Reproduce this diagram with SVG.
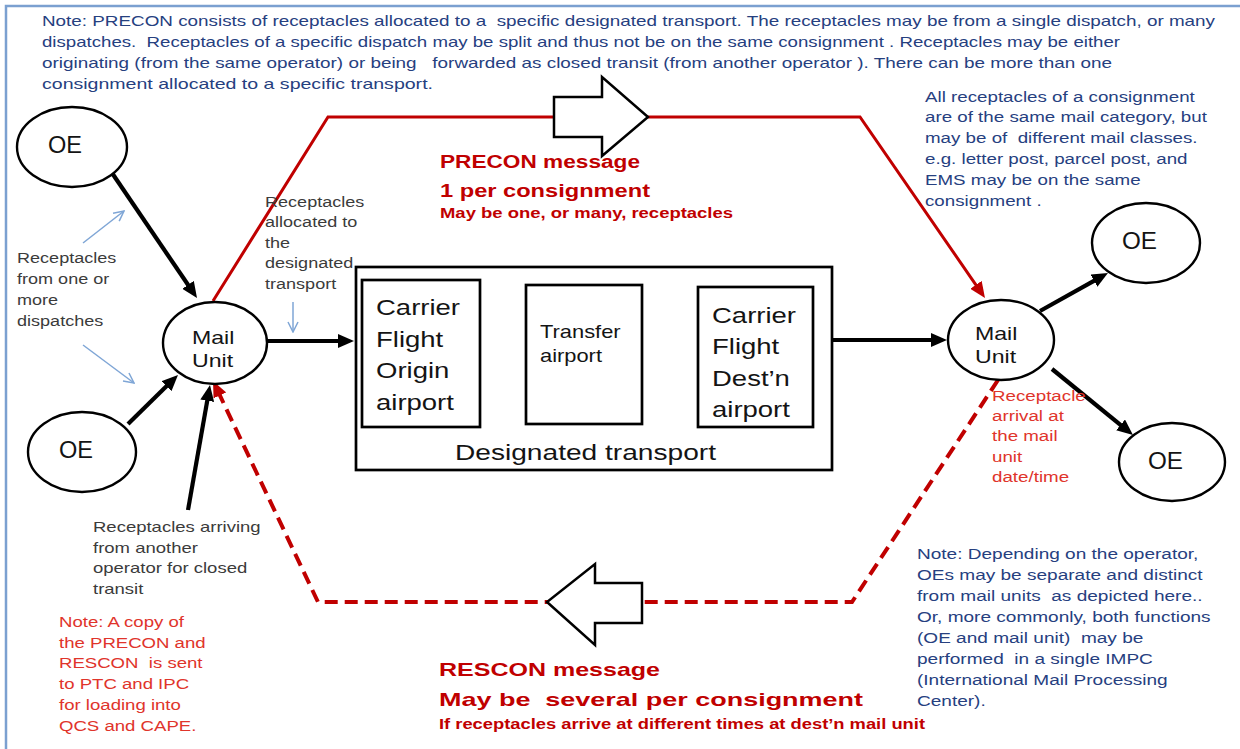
<svg xmlns="http://www.w3.org/2000/svg" width="1240" height="749" viewBox="0 0 1240 749">
<style>
text{font-family:"Liberation Sans",Arial,sans-serif}
.blue{fill:#26407f;font-size:15px}
.gray{fill:#3b3b3b;font-size:14.8px}
.red2{fill:#e0342b;font-size:15px}
.redb{fill:#c00000;font-weight:bold}
.lbl{fill:#141414}
.node{fill:#fff;stroke:#000;stroke-width:2.4}
.box{fill:#fff;stroke:#000;stroke-width:2.7}
.blk{fill:none;stroke:#000;stroke-width:4.2}
.thin{fill:none;stroke:#7fa6d6;stroke-width:1.5}
.hollow{fill:#fff;stroke:#000;stroke-width:2.5;stroke-linejoin:miter}
</style>
<defs>
<marker id="ah" viewBox="0 0 16 14" markerWidth="16" markerHeight="14" refX="3" refY="7" orient="auto" markerUnits="userSpaceOnUse"><path d="M0,0 L16,7 L0,14 z" fill="#000"/></marker>
<marker id="ahr" viewBox="0 0 16 14" markerWidth="16" markerHeight="14" refX="3" refY="7" orient="auto" markerUnits="userSpaceOnUse"><path d="M0,0 L16,7 L0,14 z" fill="#c00000"/></marker>
<marker id="ahb" viewBox="0 0 12 12" markerWidth="12" markerHeight="12" refX="11" refY="6" orient="auto" markerUnits="userSpaceOnUse"><path d="M1,1 L11,6 L1,11" fill="none" stroke="#7fa6d6" stroke-width="1.5"/></marker>
</defs>
<rect x="0" y="0" width="1240" height="749" fill="#fff"/>
<path d="M6,749 V6 H1240" fill="none" stroke="#7ba0d0" stroke-width="2.5"/>

<g id="connectors">
<path class="blk" d="M110,170 L189.7,287.3" marker-end="url(#ah)"/>
<path class="blk" d="M128,424 L168.7,384.1" marker-end="url(#ah)"/>
<path class="blk" d="M188,510 L207.75,397.8" marker-end="url(#ah)"/>
<path class="blk" d="M268,341 L341,341" marker-end="url(#ah)"/>
<path class="blk" d="M480,339 L512,339" marker-end="url(#ah)"/>
<path class="blk" d="M642,336 L687,336" marker-end="url(#ah)"/>
<path class="blk" d="M832,340 L934,340" marker-end="url(#ah)"/>
<path class="blk" d="M1040,311 L1096.6,279.3" marker-end="url(#ah)"/>
<path class="blk" d="M1052,369 L1122.9,426.8" marker-end="url(#ah)"/>
<path d="M213,301 L328,117 L860,117 L977.6,287.3" fill="none" stroke="#c00000" stroke-width="3" marker-end="url(#ahr)"/>
<path d="M998,380 L852,602 L318,602 L218.6,392.7" fill="none" stroke="#c00000" stroke-width="4" stroke-dasharray="13 7" marker-end="url(#ahr)"/>
<path class="thin" d="M83,243 L124,211" marker-end="url(#ahb)"/>
<path class="thin" d="M83,345 L134,383" marker-end="url(#ahb)"/>
<path class="thin" d="M293,302 L293,332" marker-end="url(#ahb)"/>
<polygon class="hollow" points="554,97 602,97 602,77 648,117 602,156 602,137 554,137"/>
<polygon class="hollow" points="642,583 595,583 595,564 547,602 595,645 595,623 642,623"/>
</g>

<g id="oe-top-left">
<ellipse class="node" cx="72" cy="147" rx="55" ry="40"/>
<text class="lbl" x="48" y="153" font-size="23" textLength="34" lengthAdjust="spacingAndGlyphs">OE</text>
</g>
<g id="oe-bottom-left">
<ellipse class="node" cx="82" cy="452" rx="54" ry="40"/>
<text class="lbl" x="59" y="458" font-size="23" textLength="34" lengthAdjust="spacingAndGlyphs">OE</text>
</g>
<g id="mail-unit-left">
<ellipse class="node" cx="215" cy="343" rx="52" ry="41"/>
<text class="lbl" font-size="18.5" transform="translate(192 0) scale(1.25 1)"><tspan x="0" y="344">Mail</tspan><tspan x="0" y="367">Unit</tspan></text>
</g>
<g id="designated-transport">
<rect class="box" x="356" y="267" width="476" height="203"/>
<text class="lbl" font-size="22.5" transform="translate(455 0) scale(1.25 1)"><tspan x="0" y="460">Designated transport</tspan></text>
</g>
<g id="origin-airport">
<rect class="box" x="362" y="280" width="118" height="147"/>
<text class="lbl" font-size="22" transform="translate(376 0) scale(1.25 1)"><tspan x="0" y="315">Carrier</tspan><tspan x="0" y="347">Flight</tspan><tspan x="0" y="378">Origin</tspan><tspan x="0" y="410">airport</tspan></text>
</g>
<g id="transfer-airport">
<rect class="box" x="526" y="285" width="116" height="139"/>
<text class="lbl" font-size="17.5" transform="translate(540 0) scale(1.25 1)"><tspan x="0" y="338">Transfer</tspan><tspan x="0" y="362">airport</tspan></text>
</g>
<g id="dest-airport">
<rect class="box" x="698" y="287" width="115" height="140"/>
<text class="lbl" font-size="22" transform="translate(712 0) scale(1.25 1)"><tspan x="0" y="323">Carrier</tspan><tspan x="0" y="354">Flight</tspan><tspan x="0" y="386">Dest’n</tspan><tspan x="0" y="417">airport</tspan></text>
</g>
<g id="mail-unit-right">
<ellipse class="node" cx="1001" cy="340" rx="53" ry="40"/>
<text class="lbl" font-size="18.5" transform="translate(975 0) scale(1.25 1)"><tspan x="0" y="340">Mail</tspan><tspan x="0" y="363">Unit</tspan></text>
</g>
<g id="oe-top-right">
<ellipse class="node" cx="1146" cy="243" rx="54" ry="40"/>
<text class="lbl" x="1122" y="249" font-size="23" textLength="35" lengthAdjust="spacingAndGlyphs">OE</text>
</g>
<g id="oe-bottom-right">
<ellipse class="node" cx="1172" cy="462" rx="53" ry="39"/>
<text class="lbl" x="1148" y="469" font-size="23" textLength="35" lengthAdjust="spacingAndGlyphs">OE</text>
</g>

<g id="labels">
<text class="blue" xml:space="preserve" x="42" y="26" textLength="1173" lengthAdjust="spacingAndGlyphs">Note: PRECON consists of receptacles allocated to a  specific designated transport. The receptacles may be from a single dispatch, or many</text>
<text class="blue" xml:space="preserve" x="42" y="47" textLength="1078" lengthAdjust="spacingAndGlyphs">dispatches.  Receptacles of a specific dispatch may be split and thus not be on the same consignment . Receptacles may be either</text>
<text class="blue" xml:space="preserve" x="42" y="68" textLength="1070" lengthAdjust="spacingAndGlyphs">originating (from the same operator) or being   forwarded as closed transit (from another operator ). There can be more than one</text>
<text class="blue" x="42" y="89" textLength="391" lengthAdjust="spacingAndGlyphs">consignment allocated to a specific transport.</text>

<text class="blue" xml:space="preserve" transform="translate(925 0) scale(1.25 1)"><tspan x="0" y="102">All receptacles of a consignment</tspan><tspan x="0" y="122">are of the same mail category, but</tspan><tspan x="0" y="143">may be of  different mail classes.</tspan><tspan x="0" y="164">e.g. letter post, parcel post, and</tspan><tspan x="0" y="185">EMS may be on the same</tspan><tspan x="0" y="206">consignment .</tspan></text>

<text class="gray" transform="translate(17 0) scale(1.22 1)"><tspan x="0" y="263">Receptacles</tspan><tspan x="0" y="284">from one or</tspan><tspan x="0" y="305">more</tspan><tspan x="0" y="326">dispatches</tspan></text>

<text class="gray" transform="translate(265 0) scale(1.22 1)"><tspan x="0" y="207">Receptacles</tspan><tspan x="0" y="227">allocated to</tspan><tspan x="0" y="248">the</tspan><tspan x="0" y="268">designated</tspan><tspan x="0" y="289">transport</tspan></text>

<text class="gray" transform="translate(93 0) scale(1.25 1)"><tspan x="0" y="532">Receptacles arriving</tspan><tspan x="0" y="553">from another</tspan><tspan x="0" y="573">operator for closed</tspan><tspan x="0" y="594">transit</tspan></text>

<text class="red2" xml:space="preserve" transform="translate(59 0) scale(1.24 1)"><tspan x="0" y="627">Note: A copy of</tspan><tspan x="0" y="648">the PRECON and</tspan><tspan x="0" y="668">RESCON  is sent</tspan><tspan x="0" y="689">to PTC and IPC</tspan><tspan x="0" y="710">for loading into</tspan><tspan x="0" y="731">QCS and CAPE.</tspan></text>

<text class="red2" transform="translate(992 0) scale(1.25 1)"><tspan x="0" y="401">Receptacle</tspan><tspan x="0" y="421">arrival at</tspan><tspan x="0" y="441">the mail</tspan><tspan x="0" y="462">unit</tspan><tspan x="0" y="482">date/time</tspan></text>

<text class="blue" xml:space="preserve" transform="translate(917 0) scale(1.27 1)"><tspan x="0" y="559">Note: Depending on the operator,</tspan><tspan x="0" y="580">OEs may be separate and distinct</tspan><tspan x="0" y="601">from mail units  as depicted here..</tspan><tspan x="0" y="622">Or, more commonly, both functions</tspan><tspan x="0" y="643">(OE and mail unit)  may be</tspan><tspan x="0" y="664">performed  in a single IMPC</tspan><tspan x="0" y="685">(International Mail Processing</tspan><tspan x="0" y="706">Center).</tspan></text>

<text class="redb" x="440" y="168" font-size="18" textLength="200" lengthAdjust="spacingAndGlyphs">PRECON message</text>
<text class="redb" x="440" y="197" font-size="18" textLength="210" lengthAdjust="spacingAndGlyphs">1 per consignment</text>
<text class="redb" x="440" y="218" font-size="14" textLength="293" lengthAdjust="spacingAndGlyphs">May be one, or many, receptacles</text>
<text class="redb" x="439" y="676" font-size="19" textLength="221" lengthAdjust="spacingAndGlyphs">RESCON message</text>
<text class="redb" xml:space="preserve" x="439" y="706" font-size="19" textLength="424" lengthAdjust="spacingAndGlyphs">May be  several per consignment</text>
<text class="redb" x="439" y="729" font-size="14" textLength="486" lengthAdjust="spacingAndGlyphs">If receptacles arrive at different times at dest’n mail unit</text>
</g>
</svg>
